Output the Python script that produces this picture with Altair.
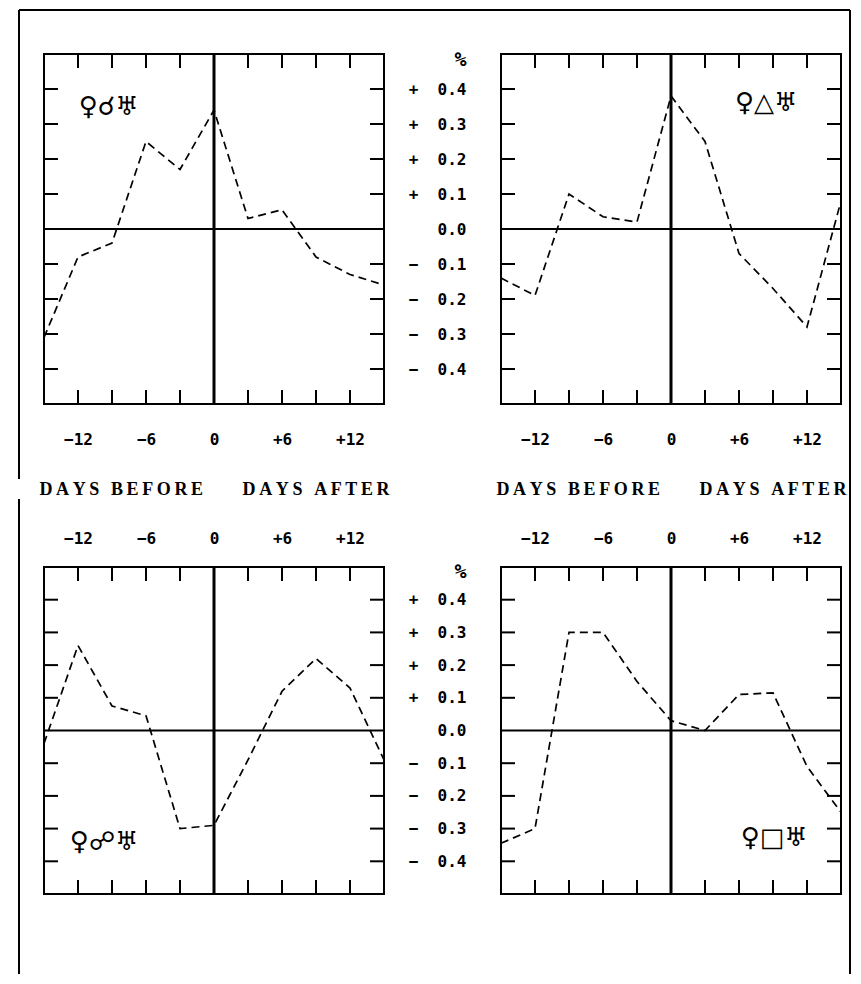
import altair as alt
import pandas as pd

# ---- data ----
days = [-15, -12, -9, -6, -3, 0, 3, 6, 9, 12, 15]
conjunction = [-0.31, -0.08, -0.04, 0.25, 0.17, 0.34, 0.03, 0.055, -0.08, -0.13, -0.16]
trine = [-0.14, -0.19, 0.10, 0.035, 0.02, 0.38, 0.25, -0.07, -0.17, -0.28, 0.08]
opposition = [-0.04, 0.26, 0.075, 0.045, -0.30, -0.29, -0.09, 0.12, 0.22, 0.13, -0.09]
square = [-0.345, -0.30, 0.30, 0.30, 0.15, 0.03, 0.0, 0.11, 0.115, -0.11, -0.25]

symbols = ["\u2640\u260c\u2645", "\u2640\u25b3\u2645", "\u2640\u260d\u2645", "\u2640\u25a1\u2645"]
symbol_day = [-9.3, 8.4, -9.7, 9.1]
symbol_value = [0.35, 0.36, -0.34, -0.33]

x_label_days = [-12, -6, 0, 6, 12]
x_label_text = ["\u221212", "\u22126", "0", "+6", "+12"]
x_tick_days = [-12, -9, -6, -3, 3, 6, 9, 12]
y_tick_values = [-0.4, -0.3, -0.2, -0.1, 0.1, 0.2, 0.3, 0.4]
y_label_values = [-0.4, -0.3, -0.2, -0.1, 0.0, 0.1, 0.2, 0.3, 0.4, 0.485]
y_label_text = ["\u2212\u00a0\u00a00.4", "\u2212\u00a0\u00a00.3", "\u2212\u00a0\u00a00.2", "\u2212\u00a0\u00a00.1",
                "0.0",
                "+\u00a0\u00a00.1", "+\u00a0\u00a00.2", "+\u00a0\u00a00.3", "+\u00a0\u00a00.4", "%\u00a0"]

MONO = "DejaVu Sans Mono"
SERIF = "Liberation Serif"


def spaced(s):
    return "\u2009".join(s)


def label_expr(vals, texts):
    expr = "''"
    for v, t in zip(reversed(vals), reversed(texts)):
        expr = f"abs(datum.value - ({v})) < 0.001 ? '{t}' : ({expr})"
    return expr


DAYS_TITLE = spaced("DAYS BEFORE") + "\u2003\u2003\u2009" + spaced("DAYS AFTER")
X_LABELS = label_expr(x_label_days, x_label_text)
Y_LABELS = label_expr(y_label_values, y_label_text)
Y_FONT_SIZE = {"condition": {"test": "datum.value > 0.45", "value": 20}, "value": 16}


def panel(values, idx, row, col, w, h, frame=False):
    xs = alt.Scale(domain=[-15, 15], nice=False, zero=False)
    ys = alt.Scale(domain=[-0.5, 0.5], nice=False, zero=False)
    common = dict(ticks=False, tickSize=0, domain=False, grid=False, labelFont=MONO,
                  labelFontWeight="bold", labelColor="black", labelFlush=False,
                  labelOverlap=False)
    if row == 0:
        xaxis = alt.Axis(orient="bottom", values=x_label_days, labelExpr=X_LABELS,
                         title=DAYS_TITLE, titleFont=SERIF, titleFontSize=18,
                         titleFontWeight="bold", titlePadding=33, titleColor="black",
                         labelPadding=27, labelFontSize=16, **common)
    else:
        xaxis = alt.Axis(orient="top", values=x_label_days, labelExpr=X_LABELS, title=None,
                         labelPadding=21, labelFontSize=16, **common)
    if col == 1:
        yaxis = alt.Axis(orient="left", values=y_label_values, labelExpr=Y_LABELS, title=None,
                         labelPadding=35, labelFontSize=Y_FONT_SIZE, **common)
    else:
        yaxis = None

    df = pd.DataFrame({"day": days, "value": values})
    line = alt.Chart(df).mark_line(color="black", strokeWidth=1.7, strokeDash=[8, 5]).encode(
        x=alt.X("day:Q", scale=xs, axis=xaxis),
        y=alt.Y("value:Q", scale=ys, axis=yaxis),
    )

    one = pd.DataFrame({"k": [0]})
    hzero = alt.Chart(one).mark_rule(color="black", strokeWidth=2.2).encode(
        y=alt.Y(datum=0, scale=ys, axis=yaxis))
    vzero = alt.Chart(one).mark_rule(color="black", strokeWidth=3).encode(
        x=alt.X(datum=0, scale=xs, axis=xaxis))

    xdf = pd.DataFrame({"day": x_tick_days})
    ydf = pd.DataFrame({"value": y_tick_values})
    tl = 14
    yt_left = alt.Chart(ydf).mark_rule(color="black", strokeWidth=2).encode(
        y=alt.Y("value:Q", scale=ys, axis=yaxis), x=alt.value(0), x2=alt.value(tl))
    yt_right = alt.Chart(ydf).mark_rule(color="black", strokeWidth=2).encode(
        y=alt.Y("value:Q", scale=ys, axis=yaxis), x=alt.value(w - tl), x2=alt.value(w))
    xt_top = alt.Chart(xdf).mark_rule(color="black", strokeWidth=2).encode(
        x=alt.X("day:Q", scale=xs, axis=xaxis), y=alt.value(0), y2=alt.value(tl))
    xt_bot = alt.Chart(xdf).mark_rule(color="black", strokeWidth=2).encode(
        x=alt.X("day:Q", scale=xs, axis=xaxis), y=alt.value(h - tl), y2=alt.value(h))

    sdf = pd.DataFrame({"day": [symbol_day[idx]], "value": [symbol_value[idx]], "t": [symbols[idx]]})
    sym = alt.Chart(sdf).mark_text(font="DejaVu Sans", fontSize=26, color="black").encode(
        x=alt.X("day:Q", scale=xs, axis=xaxis), y=alt.Y("value:Q", scale=ys, axis=yaxis), text="t:N")

    layers = [line, hzero, vzero, yt_left, yt_right, xt_top, xt_bot, sym]

    if frame:
        fr = []
        fr.append(alt.Chart(one).mark_rule(color="black", strokeWidth=2).encode(
            x=alt.value(-25), y=alt.value(-44), y2=alt.value(425)))
        fr.append(alt.Chart(one).mark_rule(color="black", strokeWidth=2).encode(
            x=alt.value(-25), y=alt.value(445), y2=alt.value(920)))
        fr.append(alt.Chart(one).mark_rule(color="black", strokeWidth=2).encode(
            x=alt.value(-25), x2=alt.value(806), y=alt.value(-44)))
        fr.append(alt.Chart(one).mark_rule(color="black", strokeWidth=2).encode(
            x=alt.value(806), y=alt.value(-44), y2=alt.value(920)))
        layers = layers + fr

    return alt.layer(*layers).properties(width=w, height=h)


W = 340
top_left = panel(conjunction, 0, 0, 0, W, 350, frame=True)
top_right = panel(trine, 1, 0, 1, W, 350)
bot_left = panel(opposition, 2, 1, 0, W, 327)
bot_right = panel(square, 3, 1, 1, W, 327)

chart = alt.concat(top_left, top_right, bot_left, bot_right, columns=2,
                   spacing={"row": 163, "column": 117}, bounds="flush").properties(
    padding={"left": 9, "top": 0, "right": 0, "bottom": 0}
).configure_view(stroke="black", strokeWidth=2)

chart.save("out.html", embed_options={"renderer": "svg", "actions": False})
